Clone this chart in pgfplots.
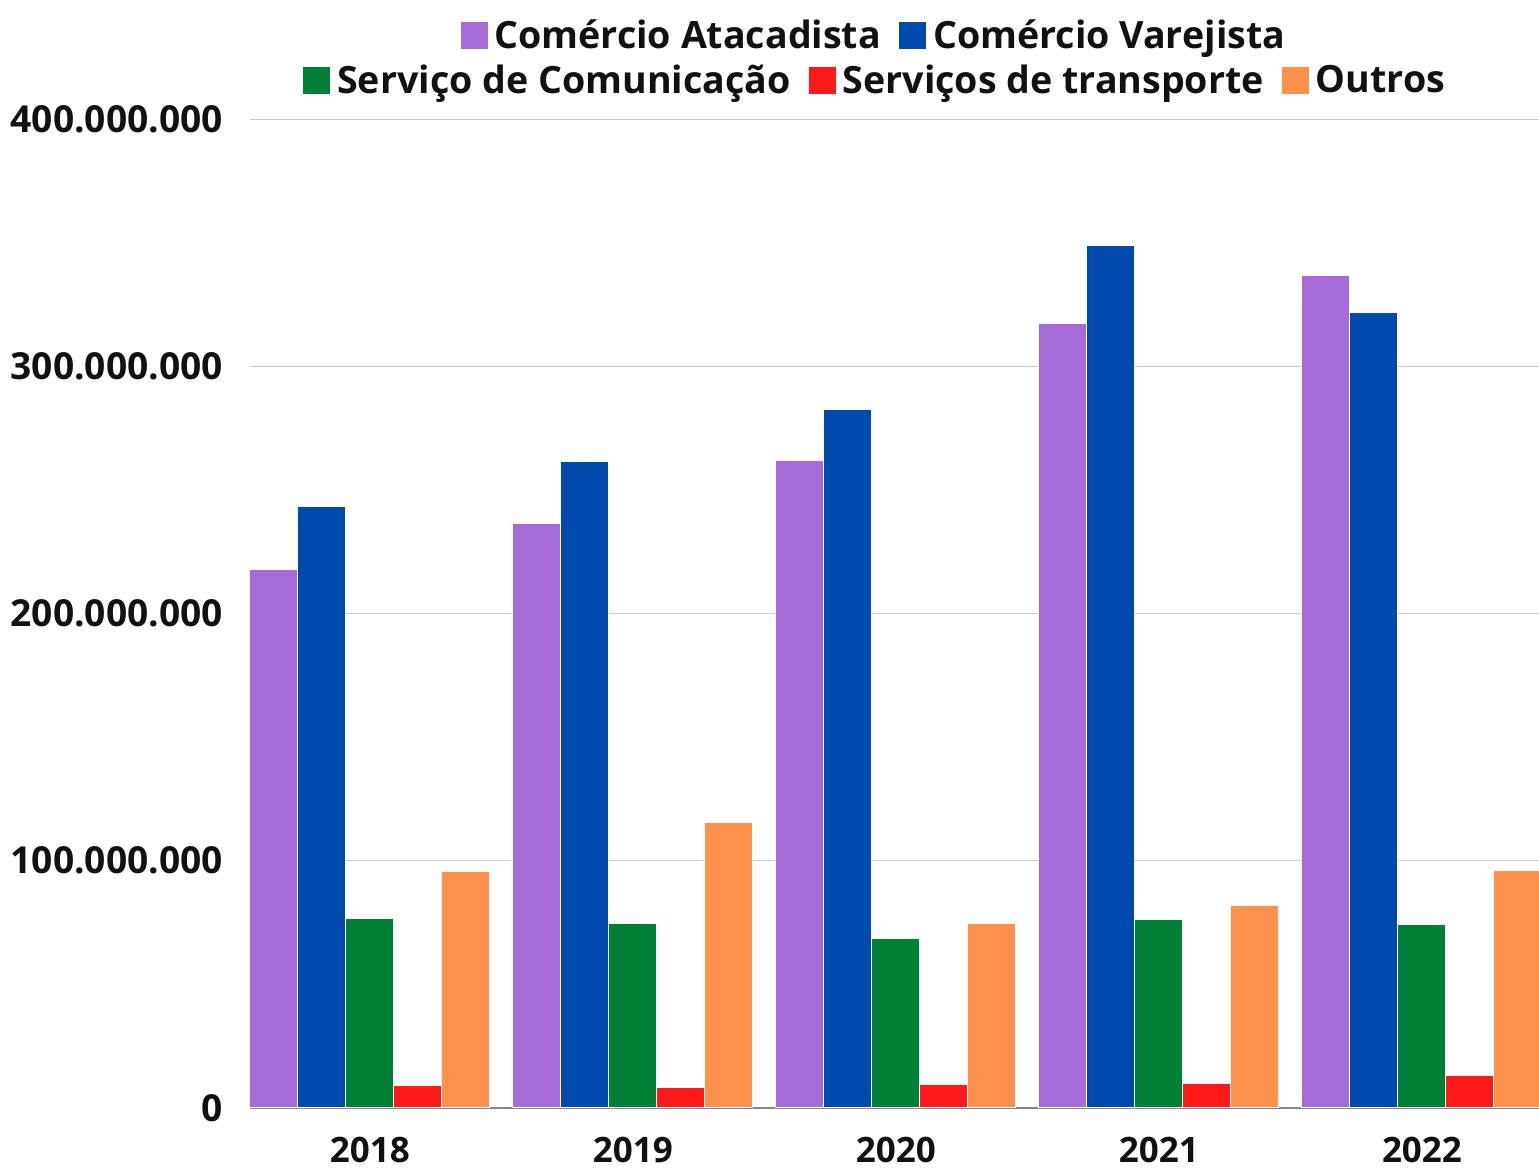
\documentclass[border=0pt]{standalone}
\usepackage{pgfplots}
\pgfplotsset{compat=1.18}
\usepackage{fontspec}
\setmainfont{Open Sans}
\definecolor{cPurple}{HTML}{A66BD6}
\definecolor{cBlue}{HTML}{004AAD}
\definecolor{cGreen}{HTML}{007F37}
\definecolor{cRed}{HTML}{FF1A1A}
\definecolor{cOrange}{HTML}{FF914D}
\definecolor{cText}{HTML}{111111}
\definecolor{cGrid}{HTML}{CCCCCC}
\definecolor{cAxis}{HTML}{888888}
\begin{document}
\begin{tikzpicture}
\useasboundingbox (0,0) rectangle (769.5pt,584pt);
\pgfplotsset{
  legsq/.style={legend image code/.code={\fill[##1,draw=none] (0pt,-6.75pt) rectangle (13.5pt,6.75pt);}},
  mylegend/.style={legend style={draw=none, fill=none, legend columns=-1,
      font=\fontsize{18.8pt}{22pt}\selectfont\bfseries\color{cText},
      /tikz/every odd column/.append style={column sep=2.5pt},
      /tikz/every even column/.append style={column sep=8pt},
      inner sep=0pt, nodes={inner sep=1pt}}},
}
\begin{axis}[
  at={(125pt,30pt)}, anchor=south west,
  scale only axis, width=644.5pt, height=494.5pt,
  xmin=-0.456, xmax=4.445, ymin=0, ymax=400000000,
  ybar, bar width=0.1825,
  xtick={0,1,2,3,4}, xticklabels={2018,2019,2020,2021,2022},
  ytick={0,100000000,200000000,300000000,400000000},
  yticklabels={0,100.000.000,200.000.000,300.000.000,400.000.000},
  scaled y ticks=false,
  /pgf/number format/assume math mode=true,
  major tick length=0pt,
  ymajorgrids, grid style={cGrid, line width=0.5pt},
  separate axis lines,
  axis x line*=bottom, axis y line*=left,
  x axis line style={cAxis, line width=0.8pt, -},
  y axis line style={draw=none},
  xticklabel style={font=\fontsize{17.5pt}{20pt}\selectfont\bfseries\color{cText}, yshift=-11pt},
  yticklabel style={font=\fontsize{18.6pt}{22pt}\selectfont\bfseries\color{cText}, xshift=-10pt},
  legsq, mylegend,
  legend style={at={(rel axis cs:0.484,1.084)}, anchor=center},
  clip=true,
]
\addplot[fill=cPurple, draw=white, line width=0.5pt, bar shift=-0.365] coordinates {(0,217600000) (1,236200000) (2,262000000) (3,317400000) (4,336800000)};
\addlegendentry{Comércio Atacadista}
\addplot[fill=cBlue, draw=white, line width=0.5pt, bar shift=-0.1825] coordinates {(0,243400000) (1,261600000) (2,282700000) (3,349000000) (4,321900000)};
\addlegendentry{Comércio Varejista}
\addplot[fill=cGreen, draw=white, line width=0.5pt, bar shift=0, forget plot] coordinates {(0,76800000) (1,74800000) (2,68700000) (3,76400000) (4,74400000)};
\addplot[fill=cRed, draw=white, line width=0.5pt, bar shift=0.1825, forget plot] coordinates {(0,8900000) (1,8100000) (2,9700000) (3,10100000) (4,13300000)};
\addplot[fill=cOrange, draw=white, line width=0.5pt, bar shift=0.365, forget plot] coordinates {(0,95800000) (1,115600000) (2,74800000) (3,81700000) (4,96200000)};
\end{axis}
\begin{axis}[
  at={(125pt,30pt)}, anchor=south west,
  scale only axis, width=644.5pt, height=494.5pt,
  xmin=-0.456, xmax=4.445, ymin=0, ymax=400000000,
  hide axis,
  legsq, mylegend,
  legend style={at={(rel axis cs:0.485,1.039)}, anchor=center},
]
\addlegendimage{fill=cGreen, draw=none}
\addlegendentry{Serviço de Comunicação}
\addlegendimage{fill=cRed, draw=none}
\addlegendentry{Serviços de transporte}
\addlegendimage{fill=cOrange, draw=none}
\addlegendentry{Outros}
\end{axis}
\end{tikzpicture}
\end{document}
